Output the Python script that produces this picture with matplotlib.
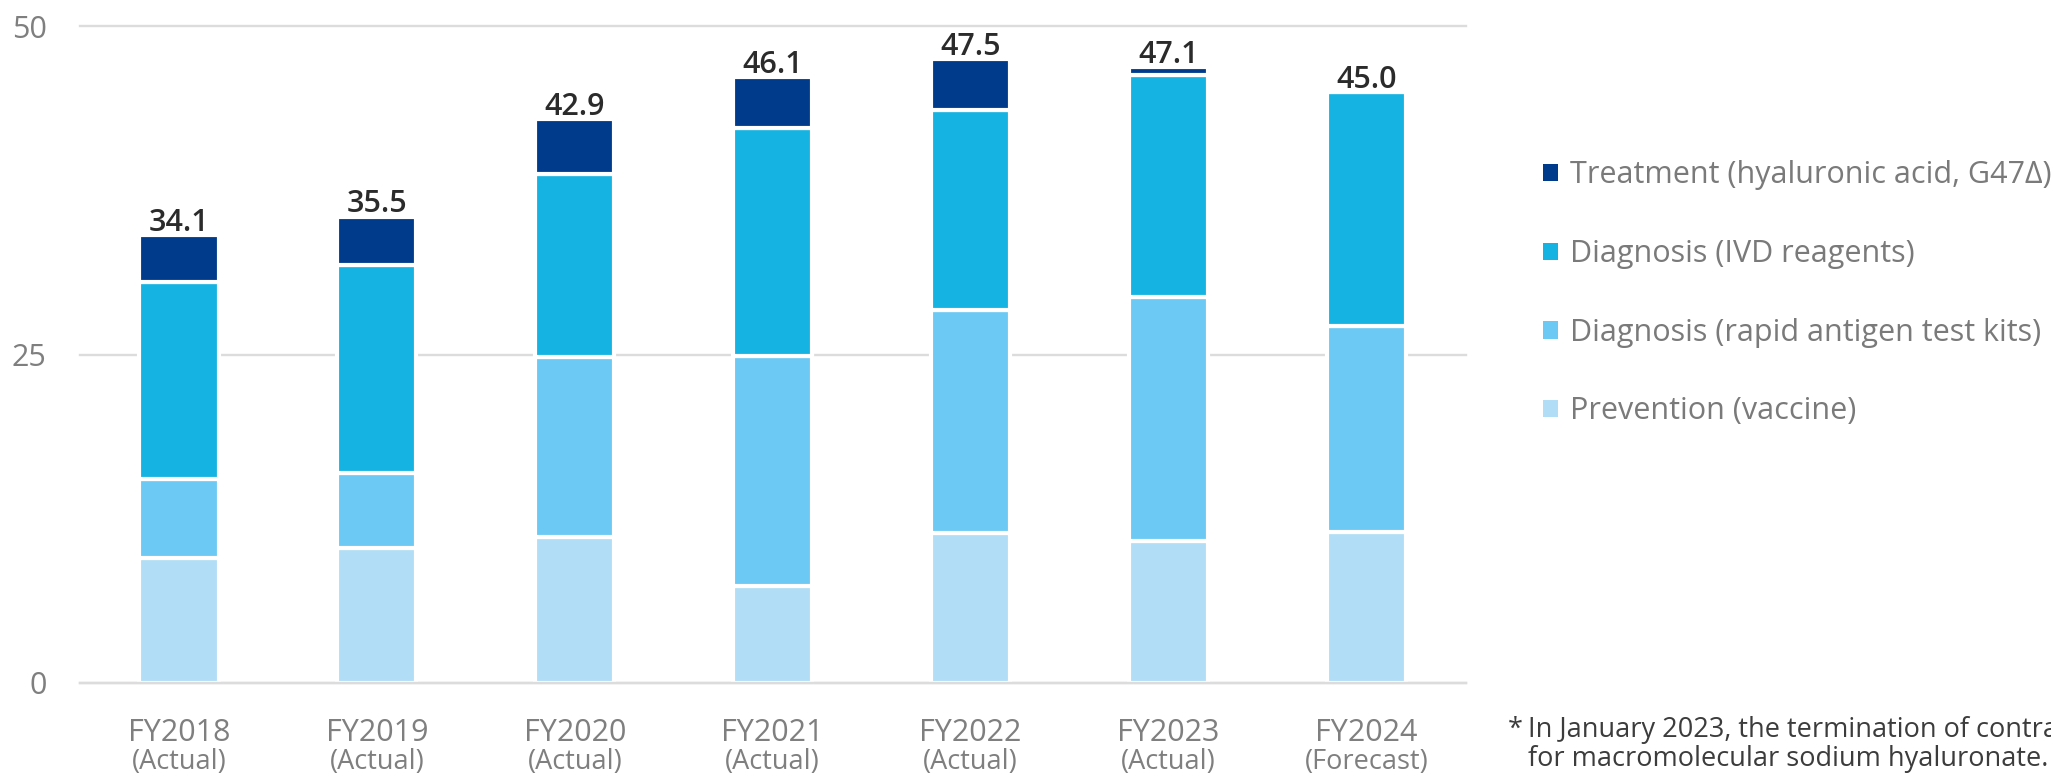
import matplotlib
matplotlib.use("Agg")
import matplotlib.pyplot as plt
from matplotlib.patches import Patch
import numpy as np

plt.rcParams['font.family'] = ['Open Sans', 'DejaVu Sans']

years = ["FY2018", "FY2019", "FY2020", "FY2021", "FY2022", "FY2023", "FY2024"]
status = ["(Actual)", "(Actual)", "(Actual)", "(Actual)", "(Actual)", "(Actual)", "(Forecast)"]
vaccine = [9.5, 10.3, 11.1, 7.4, 11.4, 10.8, 11.5]
rapid = [6.0, 5.7, 13.7, 17.5, 17.0, 18.6, 15.7]
ivd = [15.0, 15.8, 13.9, 17.3, 15.2, 16.9, 17.8]
treatment = [3.6, 3.7, 4.2, 3.9, 3.9, 0.6, 0.0]
totals = [34.1, 35.5, 42.9, 46.1, 47.5, 47.1, 45.0]

series = [
    ("Prevention (vaccine)", vaccine, "#B1DEF6"),
    ("Diagnosis (rapid antigen test kits)", rapid, "#6CC9F4"),
    ("Diagnosis (IVD reagents)", ivd, "#15B3E2"),
    ("Treatment (hyaluronic acid, G47\u0394)", treatment, "#003B8B"),
]

fig = plt.figure(figsize=(20.51, 7.78), dpi=100)
ax = fig.add_axes([80/2051, 1-683/778, (1465.5-80)/2051, (683-26)/778])

x = np.arange(len(years))
bottom = np.zeros(len(years))
handles = []
for name, vals, col in series:
    v = np.array(vals, dtype=float)
    ax.bar(x, v, width=0.40, bottom=bottom, color=col, edgecolor="white",
           linewidth=3.0, zorder=2)
    bottom = bottom + v
    handles.append(Patch(facecolor=col, edgecolor="none", label=name))

for i, t in enumerate(totals):
    ax.annotate(f"{t:.1f}", xy=(x[i], bottom[i]), xytext=(0, 3),
                textcoords="offset points", ha="center", va="baseline",
                fontsize=22, fontweight="semibold", color="#2b2b2b", zorder=5)

ax.set_xlim(-0.5, len(years) - 0.5)
ax.set_ylim(0, 50)
ax.set_yticks([0, 25, 50])
ax.set_yticklabels(["0", "25", "50"])
ax.tick_params(axis="y", length=0, pad=24, labelsize=22, labelcolor="#7f7f7f")
ax.set_xticks(x)
ax.set_xticklabels([])
ax.tick_params(axis="x", length=0)
ax.grid(axis="y", color="#dcdcdc", linewidth=1.7, zorder=0.5)
ax.set_axisbelow(True)
for gl in ax.get_ygridlines():
    gl.set_clip_on(False)
ax.axhline(0, color="#dcdcdc", linewidth=1.7, zorder=3, clip_on=False)
for s in ax.spines.values():
    s.set_visible(False)

for i in range(len(years)):
    ax.annotate(years[i], xy=(x[i], 0), xycoords=("data", "axes fraction"),
                xytext=(0, -41.8), textcoords="offset points",
                ha="center", va="baseline", fontsize=22, color="#7f7f7f")
    ax.annotate(status[i], xy=(x[i], 0), xycoords=("data", "axes fraction"),
                xytext=(0, -62.0), textcoords="offset points",
                ha="center", va="baseline", fontsize=19.5, color="#7f7f7f")

leg = fig.legend(handles=handles[::-1], loc="upper left",
                 bbox_to_anchor=(1542.5/2051, 1-160.5/778), frameon=False,
                 fontsize=22, labelcolor="#7a7a7a", handlelength=0.5,
                 handleheight=0.5, handletextpad=0.4, labelspacing=1.59,
                 borderpad=0, borderaxespad=0)

fig.text(1508/2051, 1-737/778, "*", fontsize=19.5, color="#3c3c3c", va="baseline")
fig.text(1528/2051, 1-737/778, "In January 2023, the termination of contract",
         fontsize=19.5, color="#3c3c3c", va="baseline")
fig.text(1528/2051, 1-766/778, "for macromolecular sodium hyaluronate.",
         fontsize=19.5, color="#3c3c3c", va="baseline")

fig.savefig("out.png", dpi=100)
